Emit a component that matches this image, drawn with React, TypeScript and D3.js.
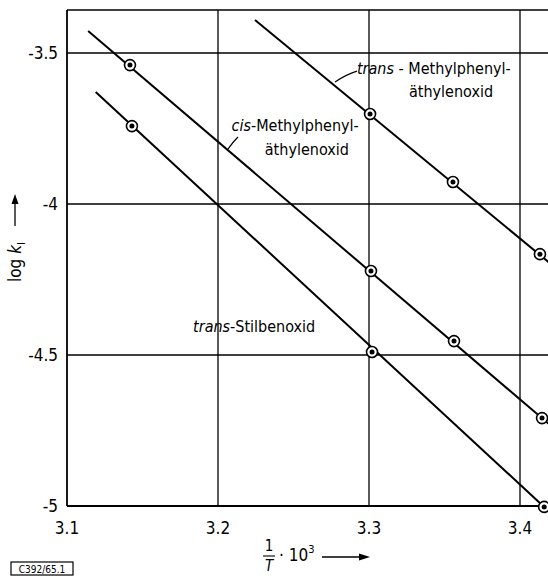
import React from 'react';
import * as d3 from 'd3';

// x: 1/T * 10^3, y: log k
const xTicks = [3.1, 3.2, 3.3, 3.4];
const xTickLabels = ['3.1', '3.2', '3.3', '3.4'];
const yTicks = [-3.5, -4, -4.5, -5];
const yTickLabels = ['-3.5', '-4', '-4.5', '-5'];

// measured points
const transX = [3.3007, 3.3556, 3.4132];
const transY = [-3.702, -3.927, -4.166];
const cisX = [3.1417, 3.3013, 3.3563, 3.4146];
const cisY = [-3.54, -4.222, -4.454, -4.709];
const stilX = [3.143, 3.302, 3.416];
const stilY = [-3.742, -4.49, -5.003];

// drawn straight lines (start / end)
const transLine: [number, number][] = [[3.2245, -3.391], [3.43, -4.238]];
const cisLine: [number, number][] = [[3.114, -3.427], [3.43, -4.775]];
const stilLine: [number, number][] = [[3.119, -3.629], [3.416, -5.003]];

const W = 548;
const H = 576;
const font = "'DejaVu Sans Condensed', 'Liberation Sans Narrow', sans-serif";

export default function App() {
  const x = d3.scaleLinear().domain([3.1, 3.4]).range([67, 520]);
  const y = d3.scaleLinear().domain([-5, -3.5]).range([506, 53]);
  const top = 10;
  const left = x(3.1);
  const bottom = y(-5);
  const line = d3.line<[number, number]>().x(d => x(d[0])).y(d => y(d[1]));

  const series = [
    { xs: transX, ys: transY, ln: transLine },
    { xs: cisX, ys: cisY, ln: cisLine },
    { xs: stilX, ys: stilY, ln: stilLine },
  ];

  const leader = (a: [number, number], b: [number, number], bend: number) => {
    const p = d3.path();
    p.moveTo(x(a[0]), y(a[1]));
    const mx = (x(a[0]) + x(b[0])) / 2;
    const my = (y(a[1]) + y(b[1])) / 2 - bend;
    p.quadraticCurveTo(mx, my, x(b[0]), y(b[1]));
    return p.toString();
  };

  return (
    <svg width={W} height={H} style={{ position: 'absolute', left: 0, top: 0, background: '#fff' }}
      fontFamily={font}>
      {/* frame */}
      <line x1={left} x2={W} y1={top} y2={top} stroke="#000" strokeWidth={1.6} />
      <line x1={left} x2={left} y1={top} y2={bottom} stroke="#000" strokeWidth={1.8} />
      <line x1={left} x2={W} y1={bottom} y2={bottom} stroke="#000" strokeWidth={1.8} />
      {/* grid */}
      {xTicks.slice(1).map(t => (
        <line key={'gx' + t} x1={x(t)} x2={x(t)} y1={top} y2={bottom} stroke="#000" strokeWidth={1.3} />
      ))}
      {yTicks.slice(0, 3).map(t => (
        <line key={'gy' + t} x1={left} x2={W} y1={y(t)} y2={y(t)} stroke="#000" strokeWidth={1.3} />
      ))}
      {/* tick labels */}
      {yTicks.map((t, i) => (
        <text key={'ty' + t} x={58} y={y(t) + 6} textAnchor="end" fontSize={17}>{yTickLabels[i]}</text>
      ))}
      {xTicks.map((t, i) => (
        <text key={'tx' + t} x={x(t)} y={534} textAnchor="middle" fontSize={17}>{xTickLabels[i]}</text>
      ))}

      {/* lines and points */}
      {series.map((s, k) => (
        <g key={'s' + k}>
          <path d={line(s.ln) || ''} fill="none" stroke="#000" strokeWidth={2} />
          {s.xs.map((v, i) => (
            <g key={i}>
              <circle cx={x(v)} cy={y(s.ys[i])} r={5.5} fill="#fff" stroke="#000" strokeWidth={1.6} />
              <circle cx={x(v)} cy={y(s.ys[i])} r={2.5} fill="#000" />
            </g>
          ))}
        </g>
      ))}

      {/* annotations */}
      <path d={leader([3.292, -3.56], [3.2775, -3.596], 2)} fill="none" stroke="#000" strokeWidth={1.2} />
      <text x={x(3.292)} y={y(-3.57)} fontSize={16}>
        <tspan fontStyle="italic">trans</tspan> - Methylphenyl-
      </text>
      <text x={x(3.3265)} y={y(-3.646)} fontSize={16}>äthylenoxid</text>

      <path d={leader([3.2132, -3.778], [3.2066, -3.818], 1)} fill="none" stroke="#000" strokeWidth={1.2} />
      <text x={x(3.209)} y={y(-3.758)} fontSize={16}>
        <tspan fontStyle="italic">cis</tspan>-Methylphenyl-
      </text>
      <text x={x(3.231)} y={y(-3.838)} fontSize={16}>äthylenoxid</text>

      <text x={x(3.1835)} y={y(-4.425)} fontSize={16}>
        <tspan fontStyle="italic">trans</tspan>-Stilbenoxid
      </text>

      {/* y axis title */}
      <text transform="translate(21,262) rotate(-90)" textAnchor="middle" fontSize={17}>
        log <tspan fontStyle="italic">k</tspan><tspan fontSize={11} dy={4}>I</tspan>
      </text>
      <line x1={15} x2={15} y1={226} y2={198} stroke="#000" strokeWidth={1.3} />
      <path d="M15,194 L11.5,204 L18.5,204 Z" fill="#000" />

      {/* x axis title */}
      <text x={269} y={551} textAnchor="middle" fontSize={15}>1</text>
      <line x1={263} x2={275} y1={556} y2={556} stroke="#000" strokeWidth={1.1} />
      <text x={269} y={571} textAnchor="middle" fontSize={15} fontStyle="italic">T</text>
      <text x={279} y={561} fontSize={17}>· 10<tspan fontSize={11} dy={-8}>3</tspan></text>
      <line x1={322} x2={362} y1={557} y2={557} stroke="#000" strokeWidth={1.3} />
      <path d="M370,557 L359,553.5 L359,560.5 Z" fill="#000" />

      {/* figure tag */}
      <rect x={11} y={562} width={62} height={13} fill="none" stroke="#000" strokeWidth={1.2} />
      <text x={42} y={572.5} textAnchor="middle" fontSize={10}>C392/65.1</text>
    </svg>
  );
}
